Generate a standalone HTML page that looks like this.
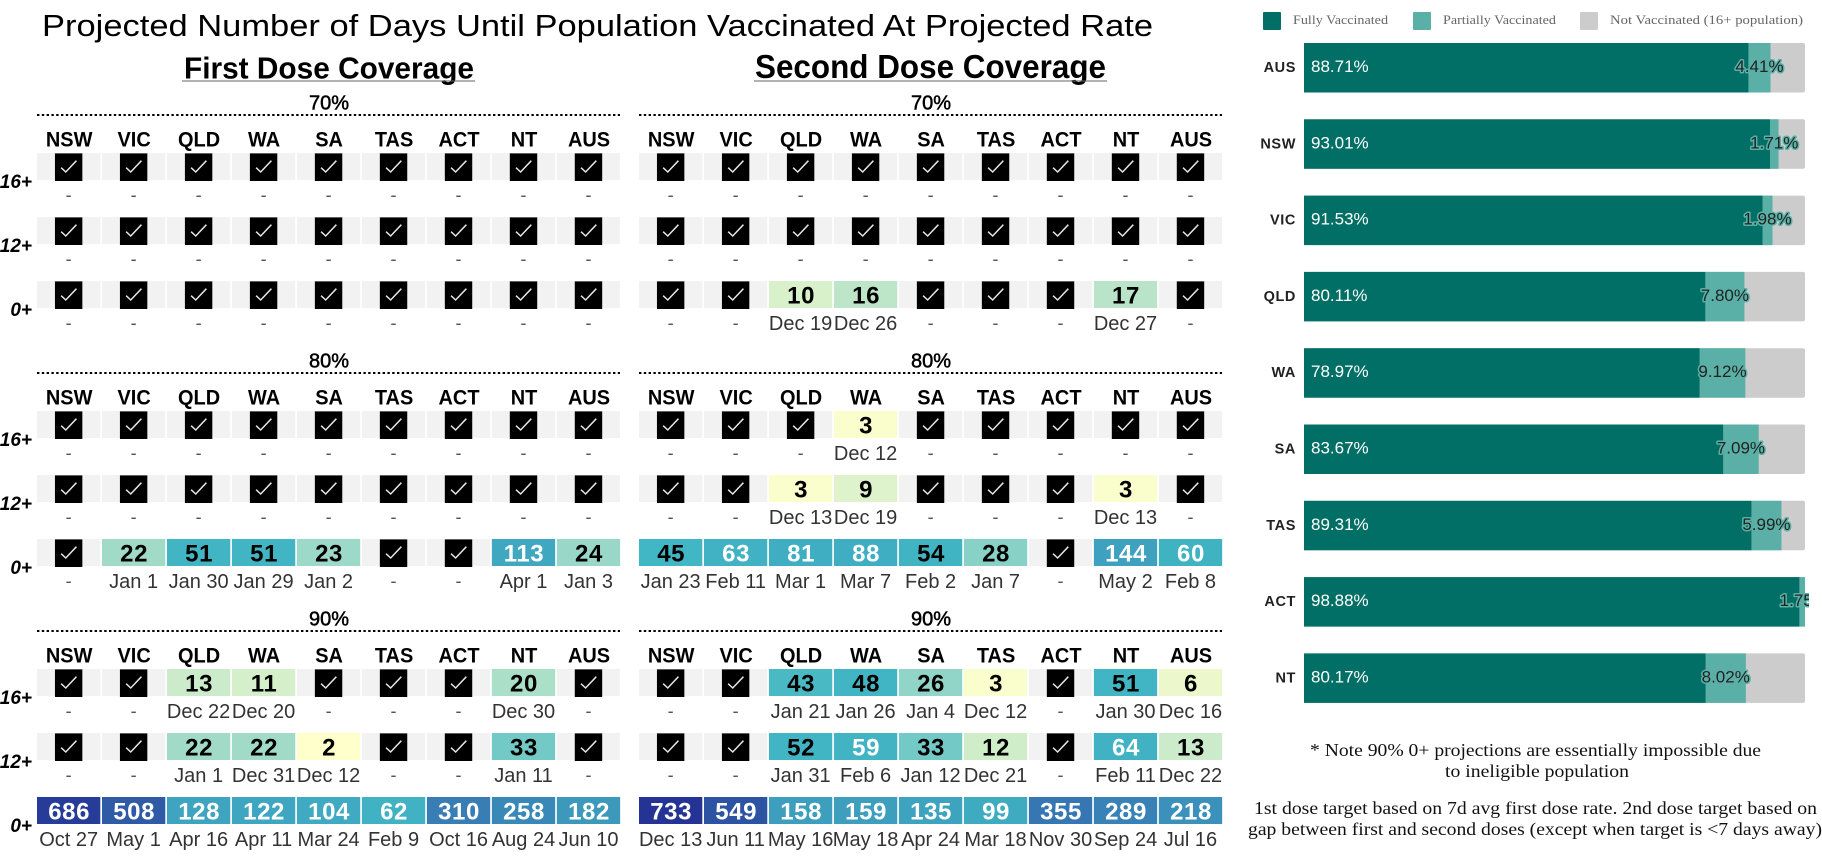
<!DOCTYPE html>
<html lang="en">
<head>
<meta charset="utf-8">
<title>Projected Number of Days Until Population Vaccinated</title>
<style>
  html, body { margin: 0; padding: 0; background: #fff; width: 1822px; height: 862px; overflow: hidden; }
  svg { display: block; font-family: "Liberation Sans", sans-serif; }
  .serif { font-family: "Liberation Serif", serif; }
</style>
</head>
<body>
<svg id="chart" xmlns="http://www.w3.org/2000/svg" width="1822" height="862" viewBox="0 0 1822 862">
  <defs>
    <clipPath id="bar-clip"><rect x="1240" y="0" width="569" height="862"></rect></clipPath>
  </defs>
  <rect width="1822" height="862" fill="#fff"></rect>

  <text x="42" y="36" font-size="31" fill="#000" textLength="1111" lengthAdjust="spacingAndGlyphs">Projected Number of Days Until Population Vaccinated At Projected Rate</text>

  <text x="184" y="78.5" font-size="30.5" font-weight="700" fill="#000" textLength="290" lengthAdjust="spacingAndGlyphs">First Dose Coverage</text>
  <rect x="182" y="80.5" width="293" height="1" fill="#666"></rect>
  <text x="755" y="78" font-size="33" font-weight="700" fill="#000" textLength="351" lengthAdjust="spacingAndGlyphs">Second Dose Coverage</text>
  <rect x="754" y="80.5" width="353" height="1" fill="#666"></rect>

  <g>
    <rect x="1263" y="12" width="18" height="18" rx="1" fill="#016f65"></rect>
    <text class="serif" x="1293" y="24" font-size="12.5" fill="#666" textLength="95" lengthAdjust="spacingAndGlyphs">Fully Vaccinated</text>
    <rect x="1413" y="12" width="18" height="18" rx="1" fill="#5ab0a6"></rect>
    <text class="serif" x="1443" y="24" font-size="12.5" fill="#666" textLength="113" lengthAdjust="spacingAndGlyphs">Partially Vaccinated</text>
    <rect x="1580" y="12" width="18" height="18" rx="1" fill="#cccccc"></rect>
    <text class="serif" x="1610" y="24" font-size="12.5" fill="#666" textLength="193" lengthAdjust="spacingAndGlyphs">Not Vaccinated (16+ population)</text>
  </g>

  <g id="panels"></g>
  <g id="bars"></g>

  <g class="serif" font-size="18" fill="#111">
    <text x="1310" y="756" textLength="451" lengthAdjust="spacingAndGlyphs">* Note 90% 0+ projections are essentially impossible due</text>
    <text x="1445" y="777" textLength="184" lengthAdjust="spacingAndGlyphs">to ineligible population</text>
    <text x="1254" y="814" textLength="563" lengthAdjust="spacingAndGlyphs">1st dose target based on 7d avg first dose rate. 2nd dose target based on</text>
    <text x="1248" y="835" textLength="574" lengthAdjust="spacingAndGlyphs">gap between first and second doses (except when target is &lt;7 days away)</text>
  </g>
</svg>

<script>
const _ = null;
const states = ['NSW','VIC','QLD','WA','SA','TAS','ACT','NT','AUS'];
const ages = ['16+','12+','0+'];
const targets = ['70%','80%','90%'];

const firstDoseDays = [
  [[_,_,_,_,_,_,_,_,_],[_,_,_,_,_,_,_,_,_],[_,_,_,_,_,_,_,_,_]],
  [[_,_,_,_,_,_,_,_,_],[_,_,_,_,_,_,_,_,_],[_,22,51,51,23,_,_,113,24]],
  [[_,_,13,11,_,_,_,20,_],[_,_,22,22,2,_,_,33,_],[686,508,128,122,104,62,310,258,182]]
];
const firstDoseDates = [
  [[_,_,_,_,_,_,_,_,_],[_,_,_,_,_,_,_,_,_],[_,_,_,_,_,_,_,_,_]],
  [[_,_,_,_,_,_,_,_,_],[_,_,_,_,_,_,_,_,_],[_,'Jan 1','Jan 30','Jan 29','Jan 2',_,_,'Apr 1','Jan 3']],
  [[_,_,'Dec 22','Dec 20',_,_,_,'Dec 30',_],[_,_,'Jan 1','Dec 31','Dec 12',_,_,'Jan 11',_],
   ['Oct 27','May 1','Apr 16','Apr 11','Mar 24','Feb 9','Oct 16','Aug 24','Jun 10']]
];
const secondDoseDays = [
  [[_,_,_,_,_,_,_,_,_],[_,_,_,_,_,_,_,_,_],[_,_,10,16,_,_,_,17,_]],
  [[_,_,_,3,_,_,_,_,_],[_,_,3,9,_,_,_,3,_],[45,63,81,88,54,28,_,144,60]],
  [[_,_,43,48,26,3,_,51,6],[_,_,52,59,33,12,_,64,13],[733,549,158,159,135,99,355,289,218]]
];
const secondDoseDates = [
  [[_,_,_,_,_,_,_,_,_],[_,_,_,_,_,_,_,_,_],[_,_,'Dec 19','Dec 26',_,_,_,'Dec 27',_]],
  [[_,_,_,'Dec 12',_,_,_,_,_],[_,_,'Dec 13','Dec 19',_,_,_,'Dec 13',_],
   ['Jan 23','Feb 11','Mar 1','Mar 7','Feb 2','Jan 7',_,'May 2','Feb 8']],
  [[_,_,'Jan 21','Jan 26','Jan 4','Dec 12',_,'Jan 30','Dec 16'],[_,_,'Jan 31','Feb 6','Jan 12','Dec 21',_,'Feb 11','Dec 22'],
   ['Dec 13','Jun 11','May 16','May 18','Apr 24','Mar 18','Nov 30','Sep 24','Jul 16']]
];

const barStates = ['AUS','NSW','VIC','QLD','WA','SA','TAS','ACT','NT'];
const fullyVaccinated = [88.71,93.01,91.53,80.11,78.97,83.67,89.31,98.88,80.17];
const partiallyVaccinated = [4.41,1.71,1.98,7.80,9.12,7.09,5.99,1.75,8.02];

const colorDomain = [2,22,45,300,733];
const colorRange = [[255,255,204],[161,219,200],[65,182,196],[56,128,182],[37,52,148]];

const NS = 'http://www.w3.org/2000/svg';
function make(parent, tag, attrs, text) {
  const el = document.createElementNS(NS, tag);
  for (const k in attrs) el.setAttribute(k, attrs[k]);
  if (text !== undefined) el.textContent = text;
  parent.appendChild(el);
  return el;
}
function dayColor(v) {
  let i = 0;
  while (i < colorDomain.length - 2 && v > colorDomain[i + 1]) i++;
  const t = Math.min(1, Math.max(0, (v - colorDomain[i]) / (colorDomain[i + 1] - colorDomain[i])));
  const c = colorRange[i].map((a, k) => Math.round(a + (colorRange[i + 1][k] - a) * t));
  return 'rgb(' + c.join(',') + ')';
}

const CELL_W = 63.3, CELL_H = 27, PITCH_X = 64.98, PITCH_ROW = 64, PITCH_BLOCK = 258, BLOCK_TOP = 153;
const cellX = (px, i) => px + i * PITCH_X;
const rowY = (b, r) => BLOCK_TOP + b * PITCH_BLOCK + r * PITCH_ROW;

function drawPanel(root, px, days, dates, showAges) {
  const lastX = px + 583;
  targets.forEach((target, b) => {
    const top = rowY(b, 0);
    const tLabel = make(root, 'text', {x: px + 292, y: top - 43.5, 'font-size': 20, 'text-anchor': 'middle', fill: '#000', stroke: '#000', 'stroke-width': 0.5}, target);
    
    
    const rule = make(root, 'line', {x1: px, x2: lastX, y1: top - 38, y2: top - 38, stroke: '#000', 'stroke-width': 2, 'stroke-dasharray': '2.4 2.4'});
    
    
    states.forEach((s, i) => {
      const head = make(root, 'text', {x: cellX(px, i) + CELL_W / 2 + 0.5, y: top - 6.5, 'font-size': 21, 'font-weight': 700, 'text-anchor': 'middle', fill: '#000'}, s);
      
      
      head.setAttribute('transform', 'translate(' + (cellX(px, i) + CELL_W / 2 + 0.5) * 0.05 + ',0) scale(0.95,1)');
    });
    ages.forEach((age, r) => {
      const y = rowY(b, r);
      if (showAges) {
        const ageLabel = make(root, 'text', {x: 32, y: y + 35, 'font-size': 19, 'font-weight': 700, 'font-style': 'italic', 'text-anchor': 'end', fill: '#000'}, age);
        
        
      }
      states.forEach((s, i) => {
        const x = cellX(px, i), cx = x + CELL_W / 2, v = days[b][r][i], d = dates[b][r][i];
        if (v === null) {
          const bg = make(root, 'rect', {x: x, y: y, width: CELL_W, height: CELL_H, fill: '#f2f2f2'});
          
          
          const box = make(root, 'rect', {x: cx - 13.7, y: y + 0.4, width: 27.4, height: 27.6, fill: '#000'});
          
          
          const tick = make(root, 'polyline', {points: [cx - 7.5, y + 14.7, cx - 2.9, y + 19, cx + 7.8, y + 7.7].reduce((acc, n, k) => acc + (k % 2 ? ',' : ' ') + n, '').trim(), fill: 'none', stroke: '#e6e6e6', 'stroke-width': 1.5});
          
          
        } else {
          const cell = make(root, 'rect', {x: x, y: y, width: CELL_W, height: CELL_H, fill: dayColor(v)});
          
          
          const num = make(root, 'text', {x: cx + 0.5, y: y + 22.3, 'font-size': 24, 'font-weight': 700, 'letter-spacing': 0.6, 'text-anchor': 'middle', fill: v >= 55 ? '#fff' : '#000'}, v);
          
          
        }
        if (d === null) {
          const dash = make(root, 'text', {x: cx, y: y + 48, 'font-size': 18, 'text-anchor': 'middle', fill: '#555'}, '-');
          
          
        } else {
          const dt = make(root, 'text', {x: cx, y: y + 49, 'font-size': 20, 'text-anchor': 'middle', fill: '#333'}, d);
          
          
        }
      });
    });
  });
}

const panels = document.getElementById('panels');
drawPanel(panels, 37, firstDoseDays, firstDoseDates, true);
drawPanel(panels, 639, secondDoseDays, secondDoseDates, false);

const BAR_X = 1304, BAR_W = 501, BAR_TOP = 43, BAR_H = 49.5, BAR_PITCH = 76.3;
const barXScale = v => BAR_X + v / 100 * BAR_W;
const barYScale = i => BAR_TOP + i * BAR_PITCH;

const bars = document.getElementById('bars');
barStates.forEach((s, i) => {
  const y = barYScale(i), f = fullyVaccinated[i], p = partiallyVaccinated[i];
  const lab = make(bars, 'text', {x: 1296, y: y + 29, 'font-size': 14.5, 'font-weight': 700, 'text-anchor': 'end', 'letter-spacing': 0.6, fill: '#222'}, s);
  
  
  const rest = make(bars, 'rect', {x: BAR_X, y: y, width: BAR_W, height: BAR_H, rx: 2, fill: '#cccccc'});
  
  
  const partial = make(bars, 'rect', {x: barXScale(f), y: y, width: barXScale(Math.min(100, f + p)) - barXScale(f), height: BAR_H, fill: '#5ab0a6'});
  
  
  const full = make(bars, 'rect', {x: BAR_X, y: y, width: barXScale(f) - BAR_X, height: BAR_H, fill: '#016f65'});
  
  
  const fLabel = make(bars, 'text', {x: BAR_X + 7, y: y + 29, 'font-size': 17, fill: '#fff'}, f.toFixed(2) + '%');
  
  
  const pLabel = make(bars, 'text', {x: barXScale(f + p / 2), y: y + 29, 'font-size': 17, 'text-anchor': 'middle', fill: '#222', stroke: '#5ab0a6', 'stroke-width': 3, 'paint-order': 'stroke', 'stroke-linejoin': 'round', 'clip-path': 'url(#bar-clip)'}, p.toFixed(2) + '%');
  
  
});
</script>
</body>
</html>
